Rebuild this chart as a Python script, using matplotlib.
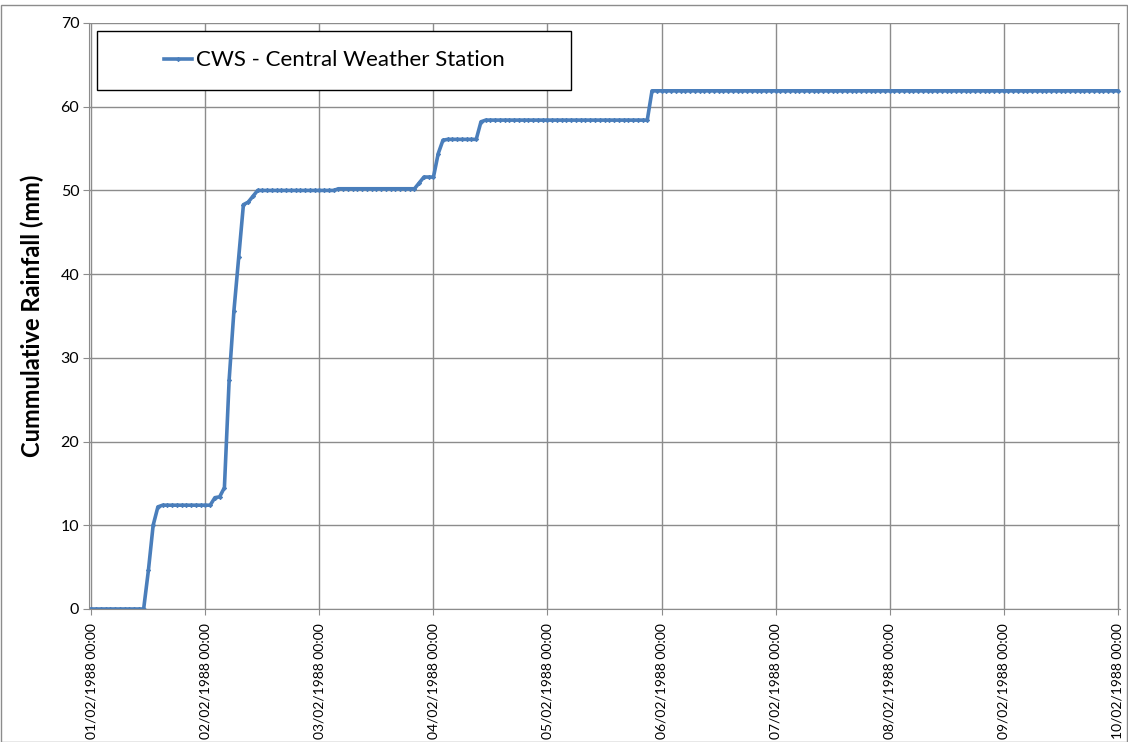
import numpy as np
import pandas as pd
import matplotlib
matplotlib.use('Agg')
import matplotlib.pyplot as plt
import matplotlib.dates as mdates
from matplotlib.patches import Rectangle

plt.rcParams['font.family'] = ['Lato', 'DejaVu Sans']

# Lluvia acumulada horaria (mm), una fila por dia
dia1 = [0.0, 0.0, 0.0, 0.0, 0.0, 0.0, 0.0, 0.0, 0.0, 0.0, 0.0, 0.0,
        4.6, 10.0, 12.2, 12.4, 12.4, 12.4, 12.4, 12.4, 12.4, 12.4, 12.4, 12.4]
dia2 = [12.4, 12.4, 13.3, 13.4, 14.5, 27.4, 35.6, 42.0, 48.3, 48.6, 49.3, 50.0,
        50.0, 50.0, 50.0, 50.0, 50.0, 50.0, 50.0, 50.0, 50.0, 50.0, 50.0, 50.0]
dia3 = [50.0, 50.0, 50.0, 50.0, 50.2, 50.2, 50.2, 50.2, 50.2, 50.2, 50.2, 50.2,
        50.2, 50.2, 50.2, 50.2, 50.2, 50.2, 50.2, 50.2, 50.2, 50.9, 51.6, 51.6]
dia4 = [51.6, 54.4, 56.0, 56.1, 56.1, 56.1, 56.1, 56.1, 56.1, 56.1, 58.2, 58.4,
        58.4, 58.4, 58.4, 58.4, 58.4, 58.4, 58.4, 58.4, 58.4, 58.4, 58.4, 58.4]
dia5 = [58.4, 58.4, 58.4, 58.4, 58.4, 58.4, 58.4, 58.4, 58.4, 58.4, 58.4, 58.4,
        58.4, 58.4, 58.4, 58.4, 58.4, 58.4, 58.4, 58.4, 58.4, 58.4, 61.9, 61.9]
dia6 = [61.9, 61.9, 61.9, 61.9, 61.9, 61.9, 61.9, 61.9, 61.9, 61.9, 61.9, 61.9,
        61.9, 61.9, 61.9, 61.9, 61.9, 61.9, 61.9, 61.9, 61.9, 61.9, 61.9, 61.9]
dia7 = [61.9, 61.9, 61.9, 61.9, 61.9, 61.9, 61.9, 61.9, 61.9, 61.9, 61.9, 61.9,
        61.9, 61.9, 61.9, 61.9, 61.9, 61.9, 61.9, 61.9, 61.9, 61.9, 61.9, 61.9]
dia8 = [61.9, 61.9, 61.9, 61.9, 61.9, 61.9, 61.9, 61.9, 61.9, 61.9, 61.9, 61.9,
        61.9, 61.9, 61.9, 61.9, 61.9, 61.9, 61.9, 61.9, 61.9, 61.9, 61.9, 61.9]
dia9 = [61.9, 61.9, 61.9, 61.9, 61.9, 61.9, 61.9, 61.9, 61.9, 61.9, 61.9, 61.9,
        61.9, 61.9, 61.9, 61.9, 61.9, 61.9, 61.9, 61.9, 61.9, 61.9, 61.9, 61.9]
dia10 = [61.9]

lluvia = dia1 + dia2 + dia3 + dia4 + dia5 + dia6 + dia7 + dia8 + dia9 + dia10
tiempo = pd.date_range('1988-02-01 00:00', periods=len(lluvia), freq='h')
serie = 'CWS - Central Weather Station'

fig = plt.figure(figsize=(11.28, 7.42), dpi=100)
ax = fig.add_axes([89 / 1128, 1 - 609 / 742, 1031 / 1128, 586 / 742])

linea, = ax.plot(tiempo, lluvia, color='#4A7EBB', lw=2.6, marker='D', ms=2.2,
                 markeredgewidth=0.6, label=serie)

media_hora = pd.Timedelta(minutes=30)
ax.set_xlim(tiempo[0] - media_hora, tiempo[-1] + media_hora)
ax.set_ylim(0, 70)
ax.set_yticks(np.arange(0, 71, 10))
ax.xaxis.set_major_locator(mdates.DayLocator())
ax.xaxis.set_major_formatter(mdates.DateFormatter('%d/%m/%Y %H:%M'))
plt.setp(ax.get_xticklabels(), rotation=90, fontsize=10)
plt.setp(ax.get_yticklabels(), fontsize=11.5)

ax.grid(True, color='#8c8c8c', lw=1)
ax.set_axisbelow(True)
for s in ['top', 'right']:
    ax.spines[s].set_visible(False)
for s in ['left', 'bottom']:
    ax.spines[s].set_color('#8c8c8c')
ax.tick_params(axis='both', color='#8c8c8c', length=4, pad=3)
ax.tick_params(axis='x', pad=6)
ax.set_ylabel('Cummulative Rainfall (mm)', fontsize=17, fontweight='bold', labelpad=12)

# Caja de la leyenda
caja = Rectangle((97 / 1128, 1 - 90 / 742), 474 / 1128, 59 / 742,
                 transform=fig.transFigure, facecolor='white', edgecolor='black', lw=1, zorder=5)
fig.add_artist(caja)
leg = fig.legend(handles=[linea], loc='center',
                 bbox_to_anchor=((97 + 237) / 1128, 1 - 60.5 / 742),
                 frameon=False, fontsize=16, handlelength=1.3, handletextpad=0.15)
leg.set_zorder(6)

# Borde de la figura
fig.add_artist(Rectangle((0.001, 0.0), 0.998, 0.993, transform=fig.transFigure,
                         fill=False, edgecolor='#8c8c8c', lw=1))

fig.savefig('out.png', dpi=100)
